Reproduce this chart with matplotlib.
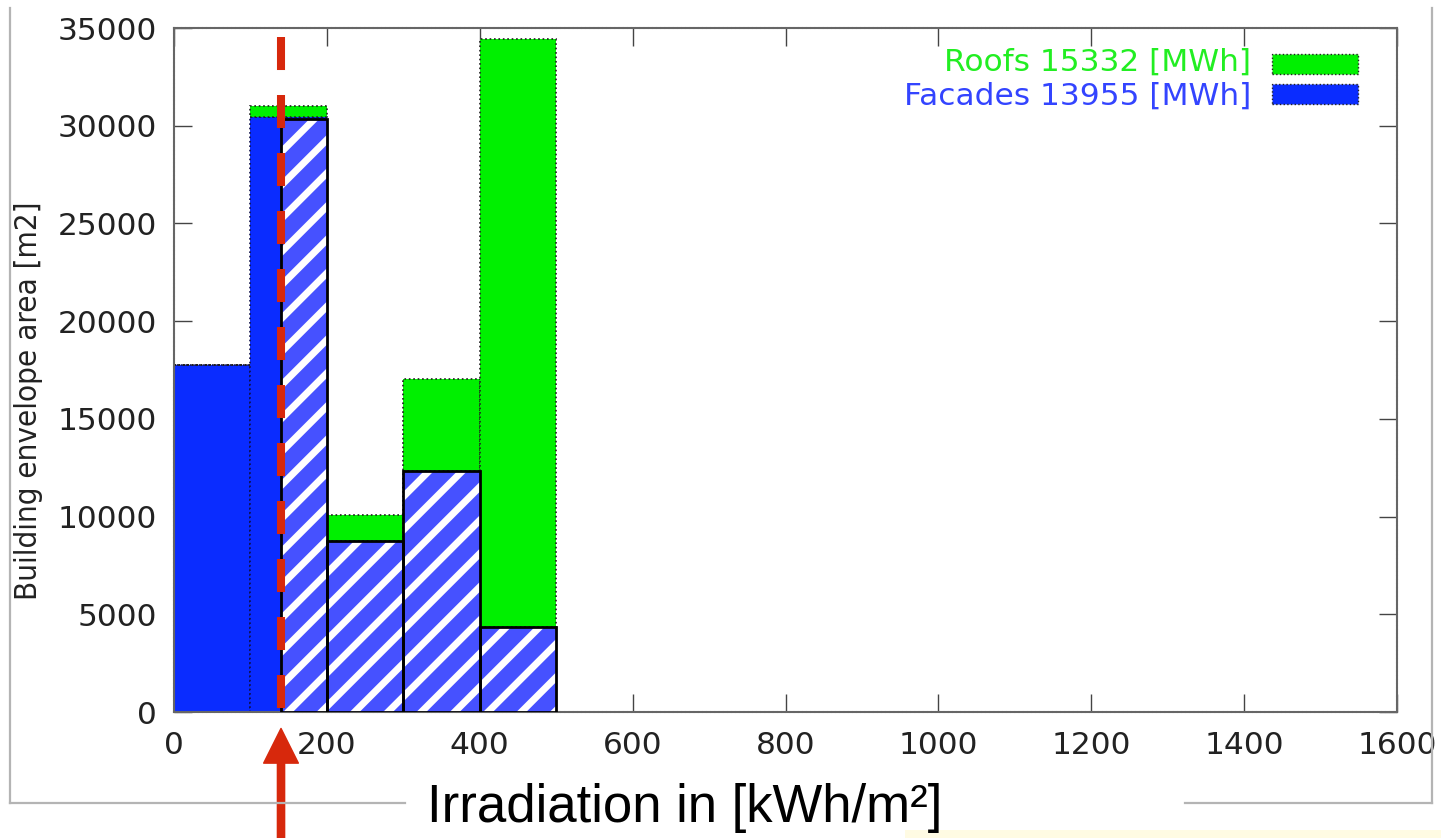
import matplotlib
matplotlib.use("Agg")
import matplotlib.pyplot as plt
from matplotlib.lines import Line2D
from matplotlib.patches import Rectangle
import matplotlib.transforms as mtransforms
import numpy as np

# ---------------- data ----------------
bin_left = [0, 100, 200, 300, 400, 500, 600, 700, 800, 900, 1000, 1100, 1200, 1300, 1400]
bin_width = 100
facades = [17750, 30450, 8750, 12330, 4350, 0, 0, 0, 0, 0, 0, 0, 0, 0, 0]
roofs = [0, 560, 1330, 4700, 30090, 0, 0, 0, 0, 0, 0, 0, 0, 0, 0]
threshold = 140
facades_above = [30350, 8750, 12330, 4350]   # facade area above threshold, bins 1..4
marker_top = 34550
roofs_label = "Roofs 15332 [MWh]"
facades_label = "Facades 13955 [MWh]"
x_ticks = [0, 200, 400, 600, 800, 1000, 1200, 1400, 1600]
y_ticks = [0, 5000, 10000, 15000, 20000, 25000, 30000, 35000]

# ---------------- style ----------------
BLUE = "#0a2cff"
GREEN = "#00f000"
HATCH_BLUE = "#4651ff"
RED = "#d7280c"
plt.rcParams["hatch.linewidth"] = 5.0
plt.rcParams["font.family"] = ["DejaVu Sans"]

W, H = 1441, 838
fig = plt.figure(figsize=(W / 100, H / 100), dpi=100)
fig.patch.set_facecolor("white")
ax = fig.add_axes([174 / W, 1 - 712 / H, (1397 - 174) / W, (712 - 28) / H])

x = np.array(bin_left, dtype=float)
fac = np.array(facades, dtype=float)
rf = np.array(roofs, dtype=float)

# stacked solid bars
ax.bar(x, fac, width=bin_width, align="edge", color=BLUE,
       edgecolor="#10104a", linewidth=1.2, linestyle=":", zorder=2)
ax.bar(x, rf, width=bin_width, bottom=fac, align="edge", color=GREEN,
       edgecolor="#202020", linewidth=1.2, linestyle=":", zorder=2)

# hatched overlay: part of facades above threshold
h_left = np.array([threshold] + bin_left[2:5], dtype=float)
h_right = np.array(bin_left[2:6], dtype=float)
h_w = h_right - h_left
ax.bar(h_left, facades_above, width=h_w, align="edge", color=HATCH_BLUE,
       edgecolor="white", hatch="/", linewidth=0, zorder=3)
ax.bar(h_left, facades_above, width=h_w, align="edge", fill=False,
       edgecolor="black", linewidth=2.0, zorder=3.5)

# red dashed threshold line
ax.plot([threshold, threshold], [marker_top, 0], color=RED, linewidth=5.8,
        dashes=(4.1, 3.1), solid_capstyle="butt", dash_capstyle="butt", zorder=4)

# red arrow below axes
trans = mtransforms.blended_transform_factory(ax.transData, ax.transAxes)
ax.annotate("", xy=(threshold, -0.024), xycoords=trans,
            xytext=(threshold, -0.2), textcoords=trans,
            arrowprops=dict(width=5.2, headwidth=25, headlength=25,
                            color=RED, shrink=0),
            annotation_clip=False)

# axes
ax.set_xlim(0, 1600)
ax.set_ylim(0, 35000)
ax.set_xticks(x_ticks)
ax.set_yticks(y_ticks)
ax.tick_params(axis="both", direction="in", length=13, width=1.0,
               color="#444444", labelsize=22.5, labelcolor="#222222",
               top=True, right=True)
ax.tick_params(axis="x", pad=14)
ax.tick_params(axis="y", pad=12)
for s in ax.spines.values():
    s.set_color("#666666")
    s.set_linewidth(1.5)
    s.set_linestyle((0, (1.2, 0.8)))

ax.set_ylabel("Building envelope area [m2]", fontsize=22.5, color="#222222",
              fontstretch="condensed")
ax.yaxis.set_label_coords(-0.1075, 0.455)

# legend (manual, gnuplot style)
ax.text(0.881, 0.950, roofs_label, transform=ax.transAxes, ha="right",
        va="center", fontsize=22.5, color="#22ee22")
ax.text(0.881, 0.900, facades_label, transform=ax.transAxes, ha="right",
        va="center", fontsize=22.5, color="#3344ff")
ax.add_patch(Rectangle((0.898, 0.933), 0.070, 0.029, transform=ax.transAxes,
                       facecolor=GREEN, edgecolor="#202020", linewidth=1,
                       linestyle=":", clip_on=False, zorder=5))
ax.add_patch(Rectangle((0.898, 0.889), 0.070, 0.029, transform=ax.transAxes,
                       facecolor=BLUE, edgecolor="#202020", linewidth=1,
                       linestyle=":", clip_on=False, zorder=5))

# outer light frame (slide decoration)
gray = "#b4b4b4"
fy = 1 - 803 / H
for xs, ys in [([10 / W, 10 / W], [1 - 8 / H, fy]),
               ([1432 / W, 1432 / W], [1 - 8 / H, fy]),
               ([10 / W, 405 / W], [fy, fy]),
               ([1185 / W, 1432 / W], [fy, fy])]:
    fig.add_artist(Line2D(xs, ys, transform=fig.transFigure, color=gray, linewidth=1.6))

fig.add_artist(Rectangle((905 / W, 0), (W - 905) / W, 8 / H, transform=fig.transFigure,
                         facecolor="#fffbe3", edgecolor="none"))

# x axis label
fig.text(685 / W, 1 - 808 / H, "Irradiation in [kWh/m²]", ha="center", va="center",
         fontsize=38, family=["Liberation Sans", "DejaVu Sans"], color="black")

fig.savefig("out.png", dpi=100, facecolor="white")
